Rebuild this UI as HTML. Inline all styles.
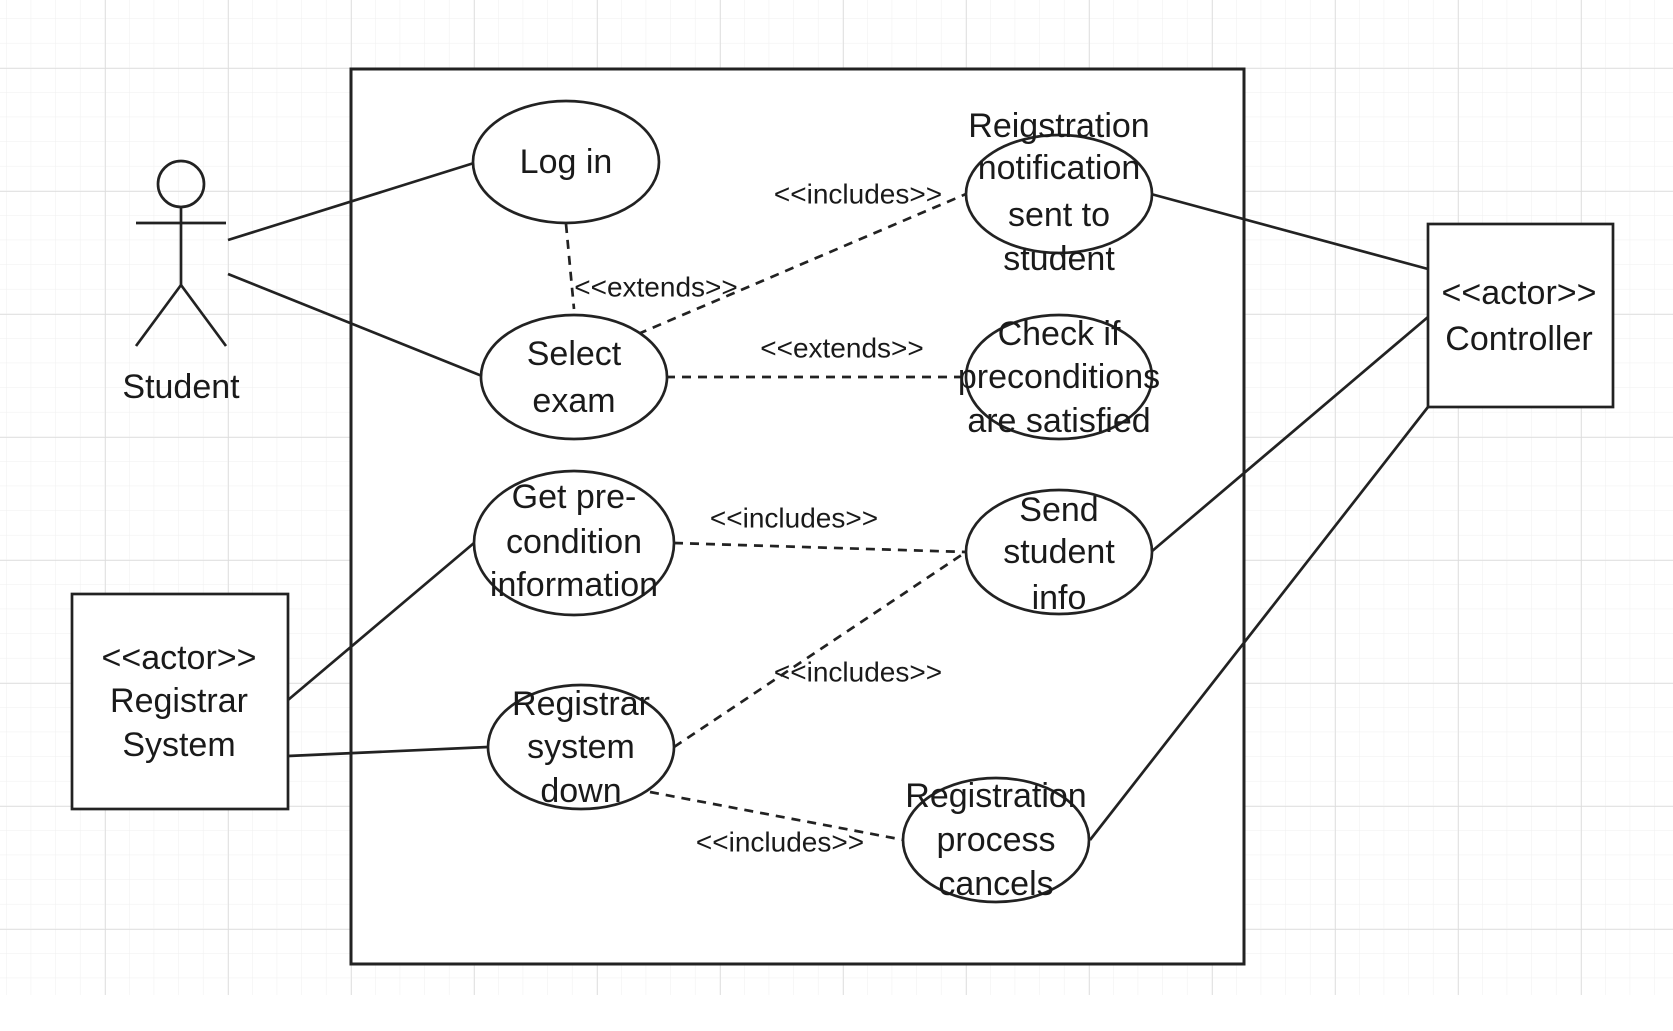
<!DOCTYPE html>
<html><head><meta charset="utf-8"><style>
html,body{margin:0;padding:0;background:#fff;}
svg{display:block;}
text{font-family:"Liberation Sans",sans-serif;fill:#1a1a1a;}
</style></head><body>
<svg width="1673" height="1031" viewBox="0 0 1673 1031" xmlns="http://www.w3.org/2000/svg">
<defs>
<pattern id="minor" x="6.6" y="-5.8" width="24.6" height="24.6" patternUnits="userSpaceOnUse">
<path d="M24.6 0 V24.6 M0 24.6 H24.6" stroke="#efefef" stroke-width="1" fill="none"/>
</pattern>
<pattern id="major" x="105" y="68" width="123" height="123" patternUnits="userSpaceOnUse">
<path d="M0 0 V123 M0 0 H123" stroke="#dcdcdc" stroke-width="1.5" fill="none"/>
</pattern>
</defs>
<rect x="0" y="0" width="1673" height="995" fill="url(#minor)"/>
<rect x="0" y="0" width="1673" height="995" fill="url(#major)"/>

<rect x="351" y="69" width="893" height="895" fill="#fff" stroke="#222" stroke-width="3"/>

<g stroke="#222" stroke-width="2.7" fill="none">
<circle cx="181" cy="184" r="23"/>
<line x1="136" y1="223" x2="226" y2="223"/>
<line x1="181" y1="207" x2="181" y2="285"/>
<line x1="181" y1="285" x2="136" y2="346"/>
<line x1="181" y1="285" x2="226" y2="346"/>
<line x1="228" y1="240" x2="474" y2="163"/>
<line x1="228" y1="274" x2="482" y2="376"/>
<line x1="1151" y1="194" x2="1428" y2="269"/>
<line x1="1428" y1="317" x2="1151" y2="552"/>
<line x1="1428" y1="407" x2="1090" y2="840"/>
<line x1="288" y1="700" x2="474" y2="543"/>
<line x1="288" y1="756" x2="488" y2="747"/>
</g>

<g stroke="#222" stroke-width="2.7" fill="none" stroke-dasharray="9,7">
<line x1="566" y1="224" x2="574" y2="309"/>
<line x1="638" y1="334" x2="966" y2="194"/>
<line x1="666" y1="377" x2="966" y2="377"/>
<line x1="674" y1="543" x2="966" y2="552"/>
<line x1="674" y1="747" x2="966" y2="552"/>
<line x1="650" y1="792" x2="904" y2="840"/>
</g>

<g stroke="#222" stroke-width="2.7" fill="#fff">
<ellipse cx="566" cy="162" rx="93" ry="61"/>
<ellipse cx="574" cy="377" rx="93" ry="62"/>
<ellipse cx="574" cy="543" rx="100" ry="72"/>
<ellipse cx="581" cy="747" rx="93" ry="62"/>
<ellipse cx="1059" cy="194" rx="93" ry="59"/>
<ellipse cx="1059" cy="377" rx="93" ry="62"/>
<ellipse cx="1059" cy="552" rx="93" ry="62"/>
<ellipse cx="996" cy="840" rx="93" ry="62"/>
<rect x="1428" y="224" width="185" height="183"/>
<rect x="72" y="594" width="216" height="215"/>
</g>

<g font-size="34" text-anchor="middle" dominant-baseline="central">
<text x="181" y="387">Student</text>
<text x="566" y="162">Log in</text>
<text x="574" y="354">Select</text>
<text x="574" y="401">exam</text>
<text x="574" y="497">Get pre-</text>
<text x="574" y="542">condition</text>
<text x="574" y="585">information</text>
<text x="581" y="704">Registrar</text>
<text x="581" y="747">system</text>
<text x="581" y="791">down</text>
<text x="1059" y="126">Reigstration</text>
<text x="1059" y="168">notification</text>
<text x="1059" y="215">sent to</text>
<text x="1059" y="259">student</text>
<text x="1059" y="334">Check if</text>
<text x="1059" y="377">preconditions</text>
<text x="1059" y="421">are satisfied</text>
<text x="1059" y="510">Send</text>
<text x="1059" y="552">student</text>
<text x="1059" y="598">info</text>
<text x="996" y="796">Registration</text>
<text x="996" y="840">process</text>
<text x="996" y="884">cancels</text>
<text x="1519" y="293">&lt;&lt;actor&gt;&gt;</text>
<text x="1519" y="339">Controller</text>
<text x="179" y="658">&lt;&lt;actor&gt;&gt;</text>
<text x="179" y="701">Registrar</text>
<text x="179" y="745">System</text>
</g>

<g font-size="28" text-anchor="middle" dominant-baseline="central">
<text x="656" y="287">&lt;&lt;extends&gt;&gt;</text>
<text x="858" y="194">&lt;&lt;includes&gt;&gt;</text>
<text x="842" y="348">&lt;&lt;extends&gt;&gt;</text>
<text x="794" y="518">&lt;&lt;includes&gt;&gt;</text>
<text x="858" y="672">&lt;&lt;includes&gt;&gt;</text>
<text x="780" y="842">&lt;&lt;includes&gt;&gt;</text>
</g>
</svg>
</body></html>
